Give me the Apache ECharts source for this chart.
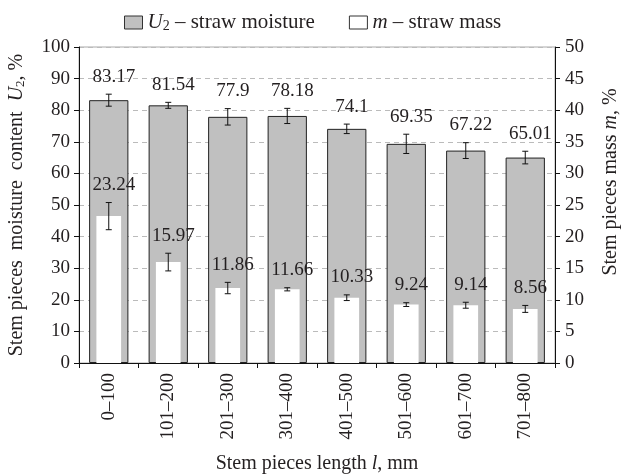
<!DOCTYPE html>
<html>
<head>
<meta charset="utf-8">
<script src="https://cdn.jsdelivr.net/npm/echarts@6/dist/echarts.min.js"></script>
<style>html,body{margin:0;padding:0;background:#fff}#c{width:621px;height:475px}</style>
</head>
<body>
<div id="c"></div>
<script>
const categories = ['0–100','101–200','201–300','301–400','401–500','501–600','601–700','701–800'];
const moisture = [83.17, 81.54, 77.9, 78.18, 74.1, 69.35, 67.22, 65.01];
const moistureErr = [1.9, 0.95, 2.6, 2.4, 1.5, 3.05, 2.5, 2.0];
const mass = [23.24, 15.97, 11.86, 11.66, 10.33, 9.24, 9.14, 8.56];
const massErr = [2.15, 1.4, 0.9, 0.25, 0.45, 0.3, 0.47, 0.55];

const FONT = 'Liberation Serif';
const TXT = '#231f20';
const FS = 19;
function mkRich(fs) {
  return {
    i: {fontFamily: FONT, fontStyle: 'italic', fontSize: fs, color: TXT},
    s: {fontFamily: FONT, fontSize: Math.round(fs * 0.65), color: TXT, verticalAlign: 'bottom', padding: [8, 0, 0, 0]},
    n: {fontFamily: FONT, fontSize: fs, color: TXT}
  };
}

function errRender(params, api) {
  const x = api.value(0), v = api.value(1), e = api.value(2);
  const top = api.coord([x, v + e]);
  const bot = api.coord([x, v - e]);
  const cap = 3;
  const st = {stroke: '#111', lineWidth: 1};
  return {
    type: 'group',
    children: [
      {type: 'line', shape: {x1: top[0], y1: top[1], x2: bot[0], y2: bot[1]}, style: st},
      {type: 'line', shape: {x1: top[0] - cap, y1: top[1], x2: top[0] + cap, y2: top[1]}, style: st},
      {type: 'line', shape: {x1: bot[0] - cap, y1: bot[1], x2: bot[0] + cap, y2: bot[1]}, style: st},
      {type: 'text', x: top[0] + 5, y: top[1] - 8,
        style: {text: String(api.value(3)), fill: TXT, font: FS + 'px "' + FONT + '"', textAlign: 'center', textVerticalAlign: 'bottom'}}
    ]
  };
}

const chart = echarts.init(document.getElementById('c'), null, {renderer: 'canvas'});
chart.setOption({
  animation: false,
  backgroundColor: '#fff',
  textStyle: {fontFamily: FONT, color: TXT},
  legend: {
    left: 124, top: 12, icon: 'rect', padding: 0,
    itemWidth: 18, itemHeight: 13, itemGap: 34,
    textStyle: {fontFamily: FONT, fontSize: 21, color: TXT, rich: mkRich(21)},
    formatter: function (name) {
      return name === 'U2' ? '{i|U}{s|2}{n| – straw moisture}' : '{i|m}{n| – straw mass}';
    },
    data: [
      {name: 'U2', itemStyle: {color: '#c0c0c0', borderColor: '#333', borderWidth: 1}},
      {name: 'm', itemStyle: {color: '#fff', borderColor: '#333', borderWidth: 1}}
    ]
  },
  grid: {left: 79, right: 66, top: 47, bottom: 112, show: true, borderColor: '#aaa', borderWidth: 1,
    backgroundColor: 'transparent', outerBoundsMode: 'none', containLabel: false},
  xAxis: [
    {type: 'category', data: categories,
      axisLine: {lineStyle: {color: '#111'}},
      axisTick: {show: true, length: 5, lineStyle: {color: '#111'}},
      axisLabel: {rotate: 90, fontFamily: FONT, fontSize: FS, color: TXT, margin: 10},
      name: 'Stem pieces length {i|l}{n|, mm}', nameLocation: 'middle', nameGap: 91,
      nameTextStyle: {fontFamily: FONT, fontSize: 20, color: TXT, rich: mkRich(20)}
    },
    {type: 'category', data: categories, show: false}
  ],
  yAxis: [
    {type: 'value', min: 0, max: 100, interval: 10,
      axisLine: {show: true, lineStyle: {color: '#111'}},
      axisTick: {show: true, length: 5, lineStyle: {color: '#111'}},
      axisLabel: {fontFamily: FONT, fontSize: FS, color: TXT, margin: 9},
      splitLine: {show: true, lineStyle: {color: '#bbb', type: [5, 4]}},
      name: 'Stem pieces  moisture  content  {i|U}{s|2}{n|, %}', nameLocation: 'middle', nameGap: 52, nameRotate: 90,
      nameTextStyle: {fontFamily: FONT, fontSize: 20, color: TXT, rich: mkRich(20)}
    },
    {type: 'value', min: 0, max: 50, interval: 5, position: 'right',
      axisLine: {show: true, lineStyle: {color: '#111'}},
      axisTick: {show: true, length: 5, lineStyle: {color: '#111'}},
      axisLabel: {fontFamily: FONT, fontSize: FS, color: TXT, margin: 10},
      splitLine: {show: false},
      name: 'Stem pieces mass {i|m}{n|, %}', nameLocation: 'middle', nameGap: 46, nameRotate: 90,
      nameTextStyle: {fontFamily: FONT, fontSize: 20, color: TXT, rich: mkRich(20), padding: [0, 0, 0, 46]}
    }
  ],
  series: [
    {name: 'U2', type: 'bar', xAxisIndex: 0, yAxisIndex: 0, data: moisture, barWidth: '66%',
      itemStyle: {color: '#c0c0c0', borderColor: '#222', borderWidth: 1}, z: 2},
    {name: 'm', type: 'bar', xAxisIndex: 1, yAxisIndex: 1, data: mass, barWidth: '41.5%',
      itemStyle: {color: '#fff'}, z: 3},
    {type: 'custom', xAxisIndex: 0, yAxisIndex: 0, renderItem: errRender, z: 5,
      encode: {x: 0, y: 1},
      data: moisture.map((v, i) => [i, v, moistureErr[i], v])},
    {type: 'custom', xAxisIndex: 1, yAxisIndex: 1, renderItem: errRender, z: 5,
      encode: {x: 0, y: 1},
      data: mass.map((v, i) => [i, v, massErr[i], v])}
  ]
});
</script>
</body>
</html>
